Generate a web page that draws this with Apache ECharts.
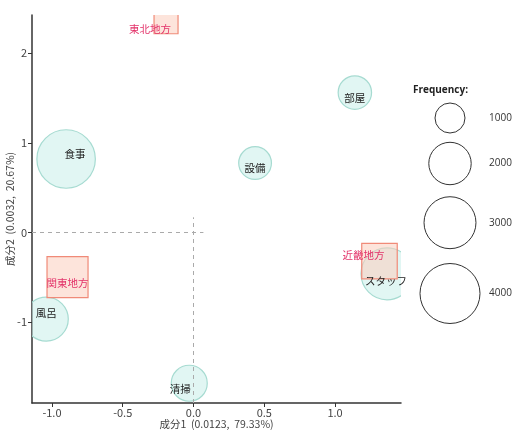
<!DOCTYPE html>
<html><head><meta charset="utf-8">
<script src="https://cdn.jsdelivr.net/npm/echarts@6/dist/echarts.min.js"></script>
<style>html,body{margin:0;padding:0;background:#fff}#c{width:519px;height:446px}</style>
</head><body><div id="c"></div>
<script>
// Column categories (circles)
const itemNames = ['食事', '設備', '部屋', '風呂', '清掃', 'スタッフ'];
const itemX = [-0.90, 0.435, 1.14, -1.04, -0.03, 1.367];
const itemY = [0.82, 0.775, 1.56, -0.965, -1.68, -0.46];
const itemFreq = [3800, 1190, 1240, 2150, 1440, 3000];
// Row categories (squares)
const regionNames = ['東北地方', '関東地方', '近畿地方'];
const regionX = [-0.194, -0.89, 1.314];
const regionY = [2.35, -0.496, -0.318];
const regionFreq = [640, 1870, 1400];
// Axes
const xTicks = [-1.0, -0.5, 0.0, 0.5, 1.0];
const yTicks = [-1, 0, 1, 2];
const xRange = [-1.141, 1.466];
const yRange = [-1.90, 2.425];
const legendValues = [1000, 2000, 3000, 4000];

const sizeOf = f => 30 * Math.sqrt(f / 1000);
const font = '"Noto Sans CJK JP", "Noto Sans", sans-serif';
const labelFont = '10.5px ' + font;

// label nudges (style)
const itemLabelOffset = {'食事':[9,-5],'設備':[0,5],'部屋':[0,5],'風呂':[0,-6],'清掃':[-9,6],'スタッフ':[-1,7]};
const regionLabelOffset = {'東北地方':[-16,7],'関東地方':[0,6],'近畿地方':[-16,-6]};

const itemData = itemNames.map((n, i) => [itemX[i], itemY[i], itemFreq[i]]);
const regionData = regionNames.map((n, i) => [regionX[i], regionY[i], regionFreq[i]]);

function markRender(shape, fill, stroke) {
  return function (params, api) {
    const c = api.coord([api.value(0), api.value(1)]);
    const s = sizeOf(api.value(2));
    return shape === 'circle'
      ? {type: 'circle', shape: {cx: c[0], cy: c[1], r: s / 2}, style: {fill: fill, stroke: stroke, lineWidth: 1.2}}
      : {type: 'rect', shape: {x: c[0] - s / 2, y: c[1] - s / 2, width: s, height: s}, style: {fill: fill, stroke: stroke, lineWidth: 1.2}};
  };
}
function textRender(names, offsets, color) {
  return function (params, api) {
    const c = api.coord([api.value(0), api.value(1)]);
    const name = names[params.dataIndex];
    const off = offsets[name];
    return {type: 'text', x: c[0] + off[0], y: c[1] + off[1],
      style: {text: name, font: labelFont, fill: color, align: 'center', verticalAlign: 'middle'}};
  };
}

const chart = echarts.init(document.getElementById('c'), null, {renderer: 'canvas'});

// legend graphics
const legendGraphics = [{
  type: 'text', left: 413, top: 85,
  style: {text: 'Frequency:', font: 'bold 10px "Open Sans", "Noto Sans", sans-serif', fill: '#222'}
}];
const legendCY = [118, 163.5, 222.7, 293.5];
legendValues.forEach((v, i) => {
  const r = sizeOf(v) / 2;
  legendGraphics.push({
    type: 'circle', shape: {cx: 450, cy: legendCY[i], r: r},
    style: {fill: 'none', stroke: '#333', lineWidth: 1}
  });
  legendGraphics.push({
    type: 'text', x: 489, y: legendCY[i],
    style: {text: String(v), font: '10px "Open Sans", "Noto Sans", sans-serif', fill: '#333', verticalAlign: 'middle'}
  });
});

const option = {
  backgroundColor: '#fff',
  animation: false,
  grid: {left: 32, right: 118, top: 15, bottom: 43, containLabel: false, outerBoundsMode: 'none'},
  xAxis: {
    type: 'value', min: xRange[0], max: xRange[1],
    name: '成分1  (0.0123,  79.33%)', nameLocation: 'middle', nameGap: 16, nameMoveOverlap: false,
    nameTextStyle: {fontFamily: font, fontSize: 10.5, color: '#444'},
    axisLine: {onZero: false, lineStyle: {color: '#333', width: 1.5}},
    axisTick: {show: true, length: 4, customValues: xTicks, lineStyle: {color: '#333'}},
    axisLabel: {customValues: xTicks, formatter: v => v.toFixed(1), fontFamily: font, fontSize: 11, color: '#444', margin: 4},
    splitLine: {show: false}
  },
  yAxis: {
    type: 'value', min: yRange[0], max: yRange[1],
    name: '成分2  (0.0032,  20.67%)', nameLocation: 'middle', nameGap: 17, nameRotate: 90, nameMoveOverlap: false,
    nameTextStyle: {fontFamily: font, fontSize: 10.5, color: '#444'},
    axisLine: {onZero: false, lineStyle: {color: '#333', width: 1.5}},
    axisTick: {show: true, length: 4, customValues: yTicks, lineStyle: {color: '#333'}},
    axisLabel: {customValues: yTicks, formatter: v => String(v), fontFamily: font, fontSize: 11, color: '#444', margin: 5},
    splitLine: {show: false}
  },
  graphic: legendGraphics,
  series: [
    {
      type: 'custom', name: 'items', data: itemData, clip: true, silent: true,
      renderItem: markRender('circle', 'rgba(200, 238, 234, 0.55)', '#a6dbd1'),
      z: 2
    },
    {
      type: 'custom', name: 'regions', data: regionData, clip: true, silent: true,
      renderItem: markRender('rect', 'rgba(252, 205, 190, 0.55)', '#f08a78'),
      z: 3
    },
    {
      type: 'line', data: [], silent: true,
      markLine: {
        silent: true, symbol: ['none', 'none'],
        lineStyle: {type: [4, 4], color: '#aaa', width: 1},
        label: {show: false},
        data: [
          [{coord: [xRange[0], 0]}, {coord: [0.07, 0]}],
          [{coord: [0, yRange[0]]}, {coord: [0, 0.17]}]
        ]
      },
      z: 4
    },
    {
      type: 'custom', name: 'itemLabels', data: itemData, clip: false, silent: true,
      renderItem: textRender(itemNames, itemLabelOffset, '#222'),
      z: 5
    },
    {
      type: 'custom', name: 'regionLabels', data: regionData, clip: false, silent: true,
      renderItem: textRender(regionNames, regionLabelOffset, '#e3336a'),
      z: 5
    }
  ]
};
chart.setOption(option);
</script>
</body></html>
